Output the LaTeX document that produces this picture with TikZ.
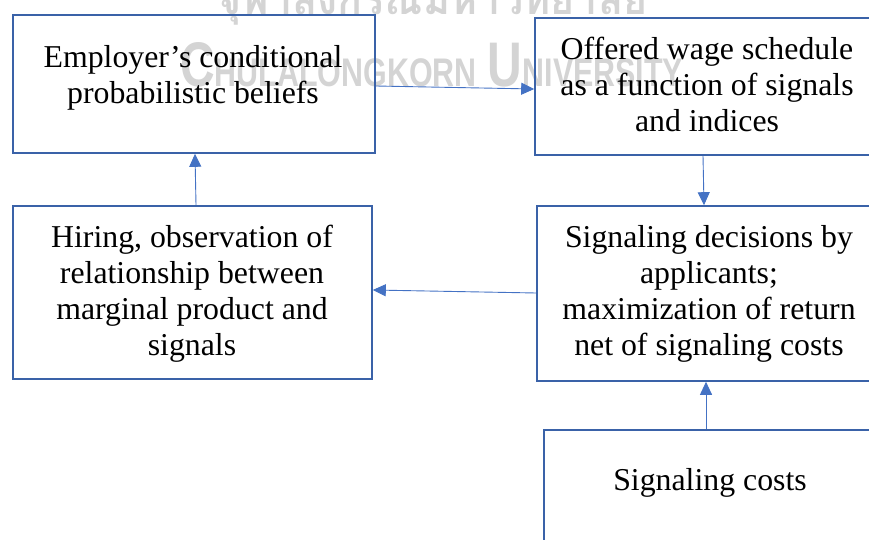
\documentclass[tikz,border=0pt]{standalone}
\usepackage{fontspec}
\setmainfont{Liberation Serif}
\newfontfamily\thaifont[Script=Thai]{Loma}
\newfontfamily\wmfont{Liberation Sans}
\usetikzlibrary{arrows.meta}
\definecolor{boxblue}{HTML}{3A62A8}
\definecolor{arrblue}{HTML}{4472C4}
\definecolor{wm}{HTML}{D4D4D4}
\tikzset{
  box/.style={draw=boxblue, line width=1.6pt, rectangle, inner sep=0pt},
  txt/.style={font=\fontsize{31.8}{36}\selectfont, align=center, anchor=north, inner sep=0pt},
  arr/.style={draw=arrblue, line width=0.9pt, -{Triangle[length=13pt,width=12pt]}},
  wmark/.style={text=wm, inner sep=0pt}
}
\begin{document}
\begin{tikzpicture}[x=1pt,y=-1pt]
\useasboundingbox (0,0) rectangle (869,540);
\clip (0,0) rectangle (869,540);
% watermark
\node[wmark, anchor=base west] (wmthai) at (217,15) {\resizebox{430pt}{!}{\thaifont\bfseries จุฬาลงกรณ์มหาวิทยาลัย}};
\node[wmark, anchor=base west] (wmeng) at (180,87) {\resizebox{503pt}{44pt}{\wmfont\bfseries{\fontsize{60}{60}\selectfont C}{\fontsize{38}{38}\selectfont HULALONGKORN}\hspace{14pt}{\fontsize{60}{60}\selectfont U}{\fontsize{38}{38}\selectfont NIVERSITY}}};
% boxes
\node[box, minimum width=362pt, minimum height=138pt] (b1) at (194,84) {};
\node[box, minimum width=345pt, minimum height=137pt] (b2) at (707.5,86.5) {};
\node[box, minimum width=359pt, minimum height=173pt] (b3) at (192.5,292.5) {};
\node[box, minimum width=343pt, minimum height=175pt] (b4) at (708.5,293.5) {};
\node[box, minimum width=336pt, minimum height=210pt] (b5) at (712,535) {};
% texts (placed by top of first line)
\node[txt] (t1) at (193,45) {Employer’s conditional\\probabilistic beliefs};
\node[txt] (t2) at (707,37) {Offered wage schedule\\as a function of signals\\and indices};
\node[txt] (t3) at (192,225) {Hiring, observation of\\relationship between\\marginal product and\\signals};
\node[txt] (t4) at (709,225) {Signaling decisions by\\applicants;\\maximization of return\\net of signaling costs};
\node[txt] (t5) at (710,468) {Signaling costs};
% connectors
\draw[arr] ([yshift=-2pt]b1.east) -- ([yshift=-2.5pt]b2.west);
\draw[arr] ([xshift=-4.5pt]b2.south) -- ([xshift=-4.5pt]b4.north);
\draw[arr] ([yshift=0.5pt]b4.west) -- ([yshift=2.5pt]b3.east);
\draw[arr] ([xshift=-6pt]b5.north) -- ([xshift=-2.5pt]b4.south);
\draw[arr] ([xshift=3.5pt]b3.north) -- ([xshift=1pt]b1.south);
\end{tikzpicture}
\end{document}
